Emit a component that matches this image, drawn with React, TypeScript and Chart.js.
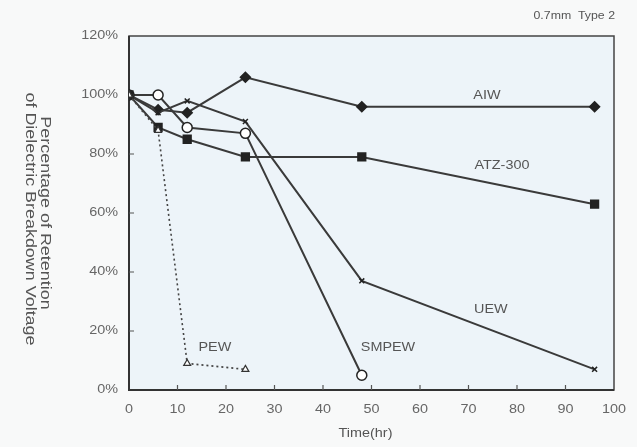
import React, { useEffect, useRef } from "react";
import { Chart, registerables } from "chart.js";

Chart.register(...registerables);

// ---- data ----
const hours = [0, 6, 12, 24, 48, 96];
const aiw = [100, 95, 94, 106, 96, 96];
const atz300 = [100, 89, 85, 79, 79, 63];
const uew = [100, 94, 98, 91, 37, 7];
const smpewHours = [0, 6, 12, 24, 48];
const smpew = [100, 100, 89, 87, 5];
const pewHours = [0, 6, 12, 24];
const pew = [100, 88, 9, 7];

const xTickValues = [0, 10, 20, 30, 40, 50, 60, 70, 80, 90, 100];
const yTickValues = [0, 20, 40, 60, 80, 100, 120];

const seriesNames = ["AIW", "ATZ-300", "UEW", "SMPEW", "PEW"];
// label anchors in data units (hours, %)
const labelHours = [73.8, 76.9, 74.6, 53.4, 17.7];
const labelPercent = [99.6, 76, 27.2, 14.3, 14.2];

const xTitle = "Time(hr)";
const yTitleLines = ["Percentage of Retention", "of Dielectric Breakdown Voltage"];
const cornerNote = "0.7mm  Type 2";

const FONT = "'Liberation Sans', Arial, sans-serif";
const TEXT = "#555";
const TICK = "#666";
const LINE = "#3a3a3a";
const STRETCH = 1.2;

const pts = (xs: number[], ys: number[]) => xs.map((x, i) => ({ x, y: ys[i] }));

function stretchText(ctx: any, text: string, x: number, y: number, align: string, sx: number) {
  ctx.save();
  ctx.translate(x, y);
  ctx.scale(sx, 1);
  ctx.textAlign = align;
  ctx.fillText(text, 0, 0);
  ctx.restore();
}

function verticalText(ctx: any, text: string, x: number, y: number, sLen: number) {
  ctx.save();
  ctx.translate(x, y);
  ctx.rotate(Math.PI / 2);
  ctx.scale(sLen, 1);
  ctx.textAlign = "center";
  ctx.fillText(text, 0, 0);
  ctx.restore();
}

const decor = {
  id: "decor",
  beforeDraw(chart: any) {
    const { ctx, chartArea: a, width, height } = chart;
    ctx.save();
    ctx.fillStyle = "#f8f9f9";
    ctx.fillRect(0, 0, width, height);
    ctx.fillStyle = "#edf4f9";
    ctx.fillRect(a.left, a.top, a.right - a.left, a.bottom - a.top);
    ctx.restore();
  },
  beforeDatasetsDraw(chart: any) {
    const { ctx, chartArea: a, scales } = chart;
    ctx.save();
    ctx.strokeStyle = "#444";
    ctx.lineWidth = 1.5;
    ctx.strokeRect(a.left, a.top, a.right - a.left, a.bottom - a.top);
    ctx.lineWidth = 2;
    ctx.strokeStyle = "#333";
    ctx.beginPath();
    ctx.moveTo(a.left, a.top);
    ctx.lineTo(a.left, a.bottom);
    ctx.lineTo(a.right, a.bottom);
    ctx.stroke();
    ctx.lineWidth = 1.2;
    ctx.strokeStyle = "#555";
    ctx.beginPath();
    yTickValues.slice(1, -1).forEach((v) => {
      const y = scales.y.getPixelForValue(v);
      ctx.moveTo(a.left, y);
      ctx.lineTo(a.left + 5, y);
    });
    xTickValues.slice(1, -1).forEach((v) => {
      const x = scales.x.getPixelForValue(v);
      ctx.moveTo(x, a.bottom);
      ctx.lineTo(x, a.bottom - 5);
    });
    ctx.stroke();
    ctx.restore();
  },
  afterDraw(chart: any) {
    const { ctx, chartArea: a, scales } = chart;
    ctx.save();
    ctx.textBaseline = "middle";
    // tick labels
    ctx.fillStyle = TICK;
    ctx.font = `12px ${FONT}`;
    scales.y.ticks.forEach((t: any) => {
      stretchText(ctx, `${t.value}%`, a.left - 11, scales.y.getPixelForValue(t.value), "right", STRETCH);
    });
    scales.x.ticks.forEach((t: any) => {
      stretchText(ctx, `${t.value}`, scales.x.getPixelForValue(t.value), a.bottom + 20, "center", STRETCH);
    });
    // series labels
    ctx.fillStyle = TEXT;
    ctx.font = `12px ${FONT}`;
    seriesNames.forEach((n, i) => {
      stretchText(ctx, n, scales.x.getPixelForValue(labelHours[i]), scales.y.getPixelForValue(labelPercent[i]), "center", STRETCH);
    });
    stretchText(ctx, xTitle, (a.left + a.right) / 2 - 6, 434, "center", STRETCH);
    ctx.font = `11px ${FONT}`;
    stretchText(ctx, cornerNote, 615, 16, "right", 1.12);
    // rotated y titles (reading top to bottom)
    ctx.font = `14px ${FONT}`;
    verticalText(ctx, yTitleLines[0], 45, 213, 1.28);
    verticalText(ctx, yTitleLines[1], 30, 219, 1.28);
    ctx.restore();
  },
};

export default function App() {
  const ref = useRef<HTMLCanvasElement>(null);
  useEffect(() => {
    document.body.style.margin = "0";
    const common = { borderColor: LINE, borderWidth: 2, pointBorderColor: "#222", pointBorderWidth: 1.5 };
    const chart = new Chart(ref.current as HTMLCanvasElement, {
      type: "line",
      data: {
        datasets: [
          {
            label: "PEW",
            data: pts(pewHours, pew),
            borderColor: "#444",
            borderWidth: 1.6,
            borderDash: [2, 3],
            pointStyle: "triangle",
            pointRadius: 4,
            pointBackgroundColor: "#ffffff",
            pointBorderColor: "#333",
            pointBorderWidth: 1.2,
          },
          { label: "ATZ-300", data: pts(hours, atz300), ...common, pointStyle: "rect", pointRadius: 5.5, pointBackgroundColor: "#222" },
          { label: "UEW", data: pts(hours, uew), ...common, pointStyle: "crossRot", pointRadius: 3.5 },
          { label: "SMPEW", data: pts(smpewHours, smpew), ...common, pointStyle: "circle", pointRadius: 5, pointBackgroundColor: "#ffffff" },
          { label: "AIW", data: pts(hours, aiw), ...common, pointStyle: "rectRot", pointRadius: 5, pointBackgroundColor: "#222" },
        ],
      },
      options: {
        responsive: false,
        animation: false,
        layout: { padding: { left: 0, right: 23, top: 36, bottom: 0 } },
        plugins: { legend: { display: false }, tooltip: { enabled: false } },
        elements: { line: { tension: 0 } },
        scales: {
          x: {
            type: "linear",
            min: 0,
            max: 100,
            afterFit: (s: any) => {
              s.height = 57;
            },
            afterBuildTicks: (s: any) => {
              s.ticks = xTickValues.map((v) => ({ value: v }));
            },
            ticks: { display: false },
            grid: { display: false, drawTicks: false },
            border: { display: false },
          },
          y: {
            min: 0,
            max: 120,
            afterFit: (s: any) => {
              s.width = 129;
            },
            afterBuildTicks: (s: any) => {
              s.ticks = yTickValues.map((v) => ({ value: v }));
            },
            ticks: { display: false },
            grid: { display: false, drawTicks: false },
            border: { display: false },
          },
        },
      },
      plugins: [decor],
    });
    return () => chart.destroy();
  }, []);
  return (
    <div style={{ width: 637, height: 447 }}>
      <canvas ref={ref} width={637} height={447} style={{ display: "block" }} />
    </div>
  );
}
